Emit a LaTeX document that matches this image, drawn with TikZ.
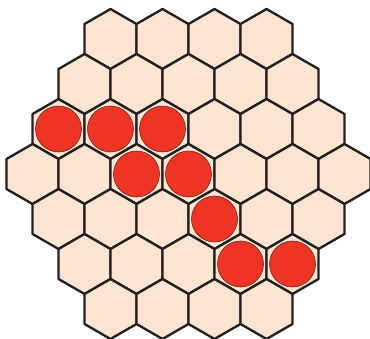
\documentclass[tikz,border=0pt]{standalone}
\usepackage{tikz}
\usetikzlibrary{shapes.geometric,positioning}
\definecolor{cellPeach}{HTML}{FDE5D2}
\definecolor{stoneRed}{HTML}{EE3524}
\definecolor{edgeDark}{HTML}{231F20}
\tikzset{
    hexCell/.style={
        regular polygon,
        regular polygon sides=6,
        shape border rotate=30,
        draw=edgeDark,
        fill=cellPeach,
        minimum size=1.8cm,
        inner sep=0pt,
        outer sep=0pt,
        line width=2pt,
        line join=round
    },
    redStone/.style={
        circle,
        draw=edgeDark!70!stoneRed,
        fill=stoneRed,
        minimum size=1.38cm,
        inner sep=0pt,
        line width=0.5pt
    },
}

\begin{document}
\begin{tikzpicture}[x=0.03cm, y=-0.03cm]
    \useasboundingbox (0,0) rectangle (370,338);

    % Board: rows of 4,5,6,7,6,5,4 cells
    \foreach \r in {0,...,6}{
        \pgfmathtruncatemacro{\n}{7-abs(\r-3)}
        \pgfmathtruncatemacro{\last}{\n-1}
        \foreach \c in {0,...,\last}{
            \node[hexCell] (h-\r-\c) at ({188.5+(\c-(\n-1)/2)*52}, {174+(\r-3)*45}) {};
        }
    }

    % Stones
    \node[redStone] (s1) at (h-2-0) {};
    \node[redStone] (s2) at (h-2-1) {};
    \node[redStone] (s3) at (h-2-2) {};
    \node[redStone] (s4) at (h-3-2) {};
    \node[redStone] (s5) at (h-3-3) {};
    \node[redStone] (s6) at (h-4-3) {};
    \node[redStone] (s7) at (h-5-3) {};
    \node[redStone] (s8) at (h-5-4) {};

\end{tikzpicture}
\end{document}
